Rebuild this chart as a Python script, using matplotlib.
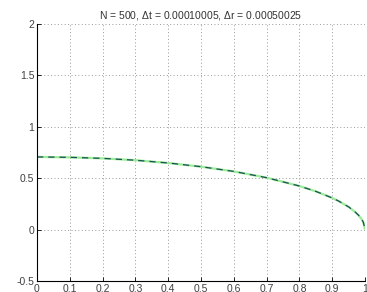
import matplotlib
matplotlib.use("Agg")
import matplotlib.pyplot as plt

r_vals = [0.0, 0.1, 0.2, 0.3, 0.4, 0.5, 0.6, 0.7, 0.8, 0.85, 0.9, 0.92, 0.95, 0.97, 0.98, 0.99, 0.995, 1.0]
u_exact = [0.707, 0.703, 0.693, 0.675, 0.648, 0.612, 0.566, 0.505, 0.424, 0.372, 0.308, 0.277, 0.221, 0.171, 0.141, 0.100, 0.071, 0.0]
u_num = [0.707, 0.703, 0.693, 0.675, 0.648, 0.612, 0.566, 0.505, 0.424, 0.372, 0.308, 0.277, 0.221, 0.171, 0.141, 0.100, 0.071, 0.0]
xticks = [0, 0.1, 0.2, 0.3, 0.4, 0.5, 0.6, 0.7, 0.8, 0.9, 1]
xticklabels = ["0", "0.1", "0.2", "0.3", "0.4", "0.5", "0.6", "0.7", "0.8", "0.9", "1"]
yticks = [-0.5, 0, 0.5, 1, 1.5, 2]
yticklabels = ["-0.5", "0", "0.5", "1", "1.5", "2"]
title = "N = 500, $\\Delta$t = 0.00010005, $\\Delta$r = 0.00050025"

plt.rcParams['font.family'] = ['Liberation Sans', 'DejaVu Sans']
plt.rcParams['mathtext.fontset'] = 'custom'
plt.rcParams['mathtext.rm'] = 'Liberation Sans'
plt.rcParams['mathtext.it'] = 'Liberation Sans'

fig = plt.figure(figsize=(3.67, 2.92), dpi=100)
ax = fig.add_axes([37/367, 1 - 281/292, (365 - 37)/367, (281 - 24)/292])

ax.plot(r_vals, u_exact, color=(0.6, 0.93, 0.6), lw=1.6, solid_capstyle='butt')
ax.plot(r_vals, u_num, color=(0.12, 0.3, 0.33), lw=0.9, ls=(0, (5, 4)))

ax.set_xlim(0, 1)
ax.set_ylim(-0.5, 2)
ax.set_xticks(xticks)
ax.set_xticklabels(xticklabels)
ax.set_yticks(yticks)
ax.set_yticklabels(yticklabels)
ax.grid(True, color=(0.6, 0.6, 0.6), ls=(0, (1, 2.5)), lw=0.7)
for s in ['top', 'right']:
    ax.spines[s].set_visible(False)
for s in ['left', 'bottom']:
    ax.spines[s].set_color('black')
    ax.spines[s].set_linewidth(0.8)
ax.tick_params(direction='in', length=3, width=0.6, labelsize=7.5, labelcolor=(0.25, 0.25, 0.25), pad=2)
ax.set_title(title, fontsize=7.5, color=(0.2, 0.2, 0.2), pad=4)

fig.savefig("out.png", dpi=100)
